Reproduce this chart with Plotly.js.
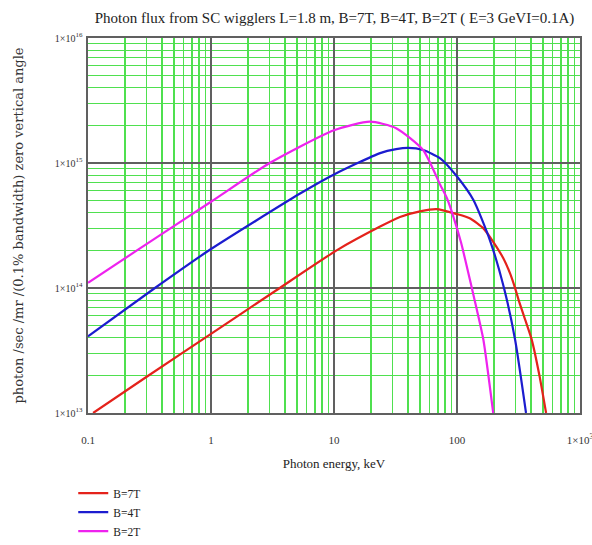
<!DOCTYPE html>
<html>
<head>
<meta charset="utf-8">
<script src="https://cdn.plot.ly/plotly-3.0.1.min.js"></script>
<style>html,body{margin:0;padding:0;background:#fff;}#chart{width:592px;height:545px;}</style>
</head>
<body>
<div id="chart"></div>
<script>
// Photon energy (keV) and flux values
const energy7T = [0.11, 0.3, 1, 3.4, 10.5, 23.7, 34.4, 50, 68, 100, 128, 164, 197, 238, 270, 292, 321, 360, 404, 470, 530];
const flux7T   = [1e13, 1.95e13, 4.3e13, 9.6e13, 2e14, 3.1e14, 3.7e14, 4.1e14, 4.28e14, 3.9e14, 3.6e14, 3.0e14, 2.34e14, 1.73e14, 1.31e14, 1.05e14, 7.7e13, 5.5e13, 3.9e13, 1.95e13, 1e13];

const energy4T = [0.1, 0.35, 1, 5.3, 10, 23.7, 32, 40, 53, 73, 100, 136, 185, 241, 297, 364];
const flux4T   = [4.1e13, 1e14, 2.05e14, 5.7e14, 8.1e14, 1.2e15, 1.29e15, 1.32e15, 1.27e15, 1.09e15, 7.8e14, 5.06e14, 2.42e14, 1e14, 3.84e13, 1e13];

const energy2T = [0.1, 0.25, 1, 3, 10, 19.6, 32, 53, 73, 83, 92, 108, 132, 145, 164, 197];
const flux2T   = [1.1e14, 2e14, 4.9e14, 1e15, 1.83e15, 2.14e15, 1.9e15, 1.27e15, 6.7e14, 5.2e14, 3.9e14, 2.3e14, 1e14, 6.7e13, 3.84e13, 1e13];

const seriesNames = ['B=7T', 'B=4T', 'B=2T'];

const xTickVals = [0.1, 1, 10, 100, 1000];
const xTickText = ['0.1', '1', '10', '100', '1×10<sup>3</sup>'];
const yTickVals = [1e13, 1e14, 1e15, 1e16];
const yTickText = ['1×10<sup>13</sup>', '1×10<sup>14</sup>', '1×10<sup>15</sup>', '1×10<sup>16</sup>'];

function minorVals(lo, hi) {
  const v = [];
  for (let e = lo; e < hi; e++) for (let m = 2; m <= 9; m++) v.push(m * Math.pow(10, e));
  return v;
}

const serif = 'Liberation Serif, Times New Roman, serif';
const lineStyle = (c) => ({color: c, width: 2.2, shape: 'spline', smoothing: 0.6});

const traces = [
  {x: energy7T, y: flux7T, name: seriesNames[0], mode: 'lines', line: lineStyle('#e4221b')},
  {x: energy4T, y: flux4T, name: seriesNames[1], mode: 'lines', line: lineStyle('#1c1ccf')},
  {x: energy2T, y: flux2T, name: seriesNames[2], mode: 'lines', line: lineStyle('#ee22ee')}
];

const gridGreen = '#4fe04f';
const majorGrid = '#606060';

const layout = {
  width: 592, height: 545,
  margin: {l: 88, r: 12, t: 38, b: 132, autoexpand: false},
  paper_bgcolor: '#fff', plot_bgcolor: '#fff',
  font: {family: serif, color: '#222'},
  title: {text: 'Photon flux from SC wigglers L=1.8 m, B=7T, B=4T, B=2T ( E=3 GeVI=0.1A)',
          font: {family: serif, size: 15, color: '#222'}, x: 0.565, xanchor: 'center', y: 0.967, yanchor: 'middle'},
  xaxis: {
    type: 'log', range: [-1, 3],
    tickvals: xTickVals, ticktext: xTickText, ticks: '',
    ticklabelstandoff: 16, ticklabeloverflow: 'allow',
    tickfont: {family: serif, size: 11, color: '#333'},
    showgrid: true, gridcolor: majorGrid, gridwidth: 1.4,
    minor: {tickvals: minorVals(-1, 3), showgrid: true, gridcolor: gridGreen, gridwidth: 1.2, ticks: ''},
    showline: true, linecolor: majorGrid, linewidth: 1.6, mirror: true,
    zeroline: false,
    title: {text: 'Photon energy, keV', font: {family: serif, size: 13, color: '#222'}, standoff: 14}
  },
  yaxis: {
    type: 'log', range: [13, 16],
    tickvals: yTickVals, ticktext: yTickText, ticks: '',
    ticklabelstandoff: 2,
    tickfont: {family: serif, size: 10, color: '#333'},
    showgrid: true, gridcolor: majorGrid, gridwidth: 1.4,
    minor: {tickvals: minorVals(13, 16), showgrid: true, gridcolor: gridGreen, gridwidth: 1.2, ticks: ''},
    showline: true, linecolor: majorGrid, linewidth: 1.6, mirror: true,
    zeroline: false,
    title: {text: 'photon /sec /mr /(0.1% bandwidth) zero vertical angle',
            font: {family: 'DejaVu Serif, serif', size: 13, color: '#333'}, standoff: 28}
  },
  showlegend: true,
  legend: {x: -0.03, xanchor: 'left', y: -0.175, yanchor: 'top', orientation: 'v',
           font: {family: serif, size: 11.5, color: '#222'}, bgcolor: 'rgba(0,0,0,0)', tracegroupgap: 0}
};

Plotly.newPlot('chart', traces, layout, {displayModeBar: false, staticPlot: true});
</script>
</body>
</html>
